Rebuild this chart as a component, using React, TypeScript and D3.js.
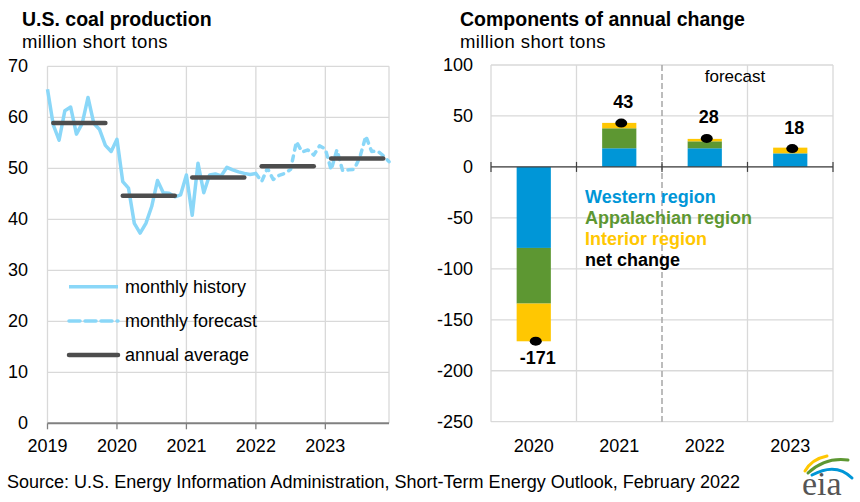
import * as d3 from "d3";

const FONT = "'Liberation Sans', Arial, Helvetica, sans-serif";

// left panel: monthly production, Jan 2019 .. Dec 2023
const yearLabels = ["2019", "2020", "2021", "2022", "2023"];
const monthlyHistory = [
  65.5, 58.5, 55.5, 61.3, 62.0, 56.7, 58.8, 63.9, 58.8, 57.6, 54.5, 53.3,
  55.7, 47.4, 46.1, 39.2, 37.3, 39.2, 42.5, 47.6, 45.2, 45.1, 44.4, 44.8,
  48.7, 40.8, 51.0, 45.2, 48.7, 48.9, 48.5, 50.2, 49.7, 49.3, 49.0, 48.8,
  49.0,
];
// starts at Jan 2022 (joins last history point)
const monthlyForecast = [
  49.0, 47.4, 50.0, 47.8, 48.6, 49.0, 49.8, 55.2, 53.2, 53.6, 52.6, 54.4,
  53.8, 49.7, 53.6, 49.5, 49.7, 49.8, 52.3, 56.3, 53.3, 53.4, 52.5, 51.3,
];
const annualAverage = [58.9, 44.6, 48.2, 50.4, 51.9];
const leftTicks = [0, 10, 20, 30, 40, 50, 60, 70];

// right panel: components of annual change
const changeYears = ["2020", "2021", "2022", "2023"];
const western = [-79.5, 18.3, 18.3, 13.3];
const appalachian = [-54.6, 19.6, 6.8, 0];
const interior = [-37.0, 5.3, 2.4, 5.6];
const netChange = [-171, 43, 28, 18];
const rightTicks = [-250, -200, -150, -100, -50, 0, 50, 100];

const regionKeys = ["western", "appalachian", "interior"];
const regionColors: Record<string, string> = {
  western: "#0096d7",
  appalachian: "#5d9732",
  interior: "#ffc702",
};
const legendItems = [
  { label: "Western region", color: "#0096d7" },
  { label: "Appalachian region", color: "#5d9732" },
  { label: "Interior region", color: "#ffc702" },
  { label: "net change", color: "#000000" },
];

const GRID = "#d9d9d9";
const LIGHT_BLUE = "#8ad7f8";
const DARK = "#4d4d4d";

export default function App() {
  // ---- left chart scales
  const lx = d3.scaleLinear().domain([0, 59]).range([47.5, 389]);
  const ly = d3.scaleLinear().domain([0, 70]).range([423.3, 66.3]);
  const histLen = monthlyHistory.length;

  const historyPath = d3
    .line<number>()
    .x((_, i) => lx(i))
    .y((d) => ly(d))(monthlyHistory);
  const forecastPath = d3
    .line<number>()
    .x((_, i) => lx(i + histLen - 1))
    .y((d) => ly(d))(monthlyForecast);

  // ---- right chart scales
  const rx = d3
    .scaleBand<string>()
    .domain(changeYears)
    .range([491, 833])
    .paddingInner(0.6)
    .paddingOuter(0.3);
  const ry = d3.scaleLinear().domain([-250, 100]).range([421.7, 65]);
  const step = rx.step();
  const boundaries = changeYears.map((y) => (rx(y) ?? 0) - step * 0.3);
  boundaries.push(833);

  const rows = changeYears.map((year, i) => ({
    year,
    western: western[i],
    appalachian: appalachian[i],
    interior: interior[i],
  }));
  const series = d3
    .stack<any>()
    .keys(regionKeys)
    .offset(d3.stackOffsetDiverging)(rows);

  return (
    <svg
      width={860}
      height={502}
      style={{ position: "absolute", left: 0, top: 0, background: "#fff" }}
      fontFamily={FONT}
    >
      {/* ================= left panel ================= */}
      <text x={22} y={26} fontSize={19.5} fontWeight="bold" fill="#000">
        U.S. coal production
      </text>
      <text x={22} y={48} fontSize={18.5} letterSpacing={0.4} fill="#000">
        million short tons
      </text>

      {/* grid */}
      {leftTicks.slice(1).map((t) => (
        <line key={t} x1={lx(0)} x2={lx(59)} y1={ly(t)} y2={ly(t)} stroke={GRID} strokeWidth={1.3} />
      ))}
      {yearLabels.map((_, i) => (
        <line key={i} x1={lx(i * 12)} x2={lx(i * 12)} y1={ly(70)} y2={ly(0)} stroke={GRID} strokeWidth={1.3} />
      ))}
      <line x1={lx(59)} x2={lx(59)} y1={ly(70)} y2={ly(0)} stroke={GRID} strokeWidth={1.3} />

      {/* x axis */}
      <line x1={lx(0)} x2={lx(59)} y1={ly(0)} y2={ly(0)} stroke="#808080" strokeWidth={2} />
      {yearLabels.map((y, i) => (
        <g key={y}>
          <line x1={lx(i * 12)} x2={lx(i * 12)} y1={ly(0)} y2={ly(0) + 6} stroke="#808080" strokeWidth={1.3} />
          <text x={lx(i * 12)} y={452} fontSize={18} textAnchor="middle" fill="#000">
            {y}
          </text>
        </g>
      ))}
      {leftTicks.map((t) => (
        <text key={t} x={28} y={ly(t) + 6} fontSize={18} textAnchor="end" fill="#000">
          {t}
        </text>
      ))}

      {/* lines */}
      <path d={historyPath ?? ""} fill="none" stroke={LIGHT_BLUE} strokeWidth={3.5} strokeLinejoin="round" />
      <path
        d={forecastPath ?? ""}
        fill="none"
        stroke={LIGHT_BLUE}
        strokeWidth={3.5}
        strokeDasharray="5 6"
        strokeLinecap="round"
        strokeLinejoin="round"
      />
      {annualAverage.map((v, i) => (
        <line
          key={i}
          x1={lx(i * 12 + 1)}
          x2={lx(i * 12 + 10)}
          y1={ly(v)}
          y2={ly(v)}
          stroke={DARK}
          strokeWidth={4.5}
          strokeLinecap="round"
        />
      ))}

      {/* legend */}
      <line x1={69} x2={118} y1={286.7} y2={286.7} stroke={LIGHT_BLUE} strokeWidth={3.5} />
      <text x={125} y={293} fontSize={18} fill="#000">monthly history</text>
      <line x1={69} x2={118} y1={321} y2={321} stroke={LIGHT_BLUE} strokeWidth={3.5} strokeDasharray="11 5" strokeLinecap="round" />
      <text x={125} y={327} fontSize={18} fill="#000">monthly forecast</text>
      <line x1={69} x2={118} y1={355} y2={355} stroke={DARK} strokeWidth={4.5} strokeLinecap="round" />
      <text x={125} y={361} fontSize={18} fill="#000">annual average</text>

      {/* ================= right panel ================= */}
      <text x={460} y={26} fontSize={19.5} fontWeight="bold" fill="#000">
        Components of annual change
      </text>
      <text x={460} y={48} fontSize={18.5} letterSpacing={0.4} fill="#000">
        million short tons
      </text>

      {rightTicks.map((t) => (
        <line key={t} x1={491} x2={833} y1={ry(t)} y2={ry(t)} stroke={GRID} strokeWidth={1.3} />
      ))}
      {boundaries.map((b, i) =>
        i === 2 ? null : (
          <line key={i} x1={b} x2={b} y1={ry(100)} y2={ry(-250)} stroke={GRID} strokeWidth={1.3} />
        )
      )}
      <line
        x1={boundaries[2]}
        x2={boundaries[2]}
        y1={ry(100)}
        y2={ry(-250)}
        stroke="#a6a6a6"
        strokeWidth={1.5}
        strokeDasharray="6 3"
      />
      <text x={735} y={82} fontSize={17} textAnchor="middle" fill="#000">
        forecast
      </text>

      {rightTicks.map((t) => (
        <text key={t} x={473} y={ry(t) + 6} fontSize={18} textAnchor="end" fill="#000">
          {t}
        </text>
      ))}
      {changeYears.map((y) => (
        <text key={y} x={(rx(y) ?? 0) + rx.bandwidth() / 2} y={452} fontSize={18} textAnchor="middle" fill="#000">
          {y}
        </text>
      ))}

      {/* stacked bars */}
      {series.map((s) => (
        <g key={s.key} fill={regionColors[s.key]}>
          {s.map((d, i) => (
            <rect
              key={i}
              x={rx(changeYears[i])}
              width={rx.bandwidth()}
              y={ry(Math.max(d[0], d[1]))}
              height={Math.abs(ry(d[0]) - ry(d[1]))}
            />
          ))}
        </g>
      ))}

      {/* zero axis */}
      <line x1={491} x2={833} y1={ry(0)} y2={ry(0)} stroke="#404040" strokeWidth={1.2} />
      {boundaries.map((b, i) => (
        <line key={i} x1={b} x2={b} y1={ry(0) - 5} y2={ry(0) + 5} stroke="#404040" strokeWidth={1.2} />
      ))}

      {/* net change markers */}
      {netChange.map((v, i) => {
        const cx = (rx(changeYears[i]) ?? 0) + rx.bandwidth() / 2 + 2;
        const cy = ry(v);
        return (
          <g key={i}>
            <ellipse cx={cx} cy={cy} rx={6} ry={4.5} fill="#000" />
            <text
              x={cx + 2}
              y={v < 0 ? cy + 23 : cy - 15}
              fontSize={18}
              fontWeight="bold"
              textAnchor="middle"
              fill="#000"
            >
              {v}
            </text>
          </g>
        );
      })}

      {/* legend */}
      {legendItems.map((it, i) => (
        <text key={it.label} x={585} y={203 + i * 21} fontSize={18} fontWeight="bold" fill={it.color}>
          {it.label}
        </text>
      ))}

      {/* ================= footer ================= */}
      <text x={7} y={488} fontSize={18} fill="#000" textLength={733} lengthAdjust="spacingAndGlyphs">
        Source: U.S. Energy Information Administration, Short-Term Energy Outlook, February 2022
      </text>

      {/* eia logo */}
      <g fill="none" strokeLinecap="round">
        <path d="M805 471 Q812 459 827 456" stroke="#ffc702" strokeWidth={3} />
        <path d="M808 473 Q825 457 848 460" stroke="#5d9732" strokeWidth={3} />
        <path d="M812 475 Q836 462 852 478" stroke="#0096d7" strokeWidth={3} />
      </g>
      <text x={802} y={495} fontSize={34} fontFamily="'Liberation Serif', 'Times New Roman', serif" fill="#555">
        eia
      </text>
    </svg>
  );
}
